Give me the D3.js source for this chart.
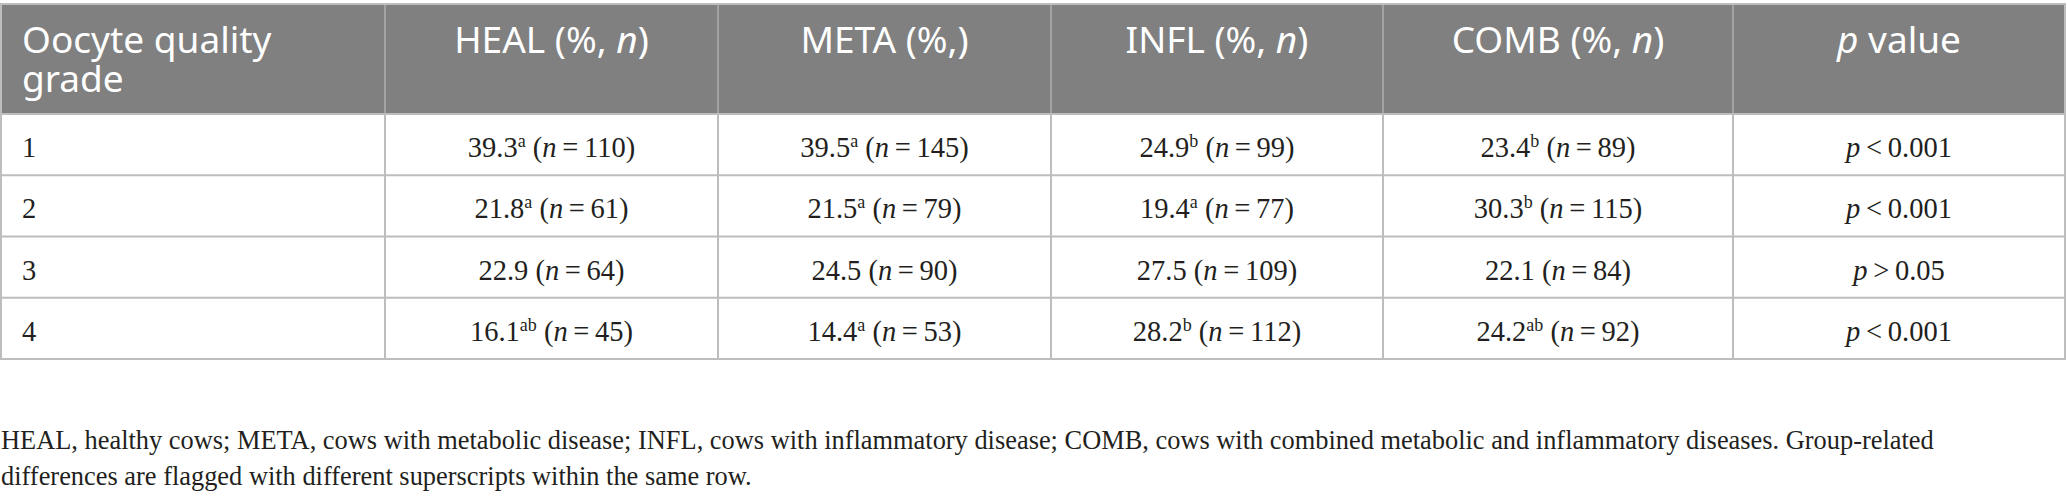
<!DOCTYPE html>
<html>
<head>
<meta charset="utf-8">
<script src="https://cdn.jsdelivr.net/npm/d3@7"></script>
<style>
  html, body { margin: 0; padding: 0; background: #fff; }
  svg { display: block; }
</style>
</head>
<body>
<svg id="chart" width="2067" height="500"></svg>
<script>
// ---------- data ----------
const headerLabels = ["Oocyte quality grade", "HEAL (%, n)", "META (%,)", "INFL (%, n)", "COMB (%, n)", "p value"];
const grades = ["1", "2", "3", "4"];
const healPct = [39.3, 21.8, 22.9, 16.1];
const healSup = ["a", "a", "", "ab"];
const healN = [110, 61, 64, 45];
const metaPct = [39.5, 21.5, 24.5, 14.4];
const metaSup = ["a", "a", "", "a"];
const metaN = [145, 79, 90, 53];
const inflPct = [24.9, 19.4, 27.5, 28.2];
const inflSup = ["b", "a", "", "b"];
const inflN = [99, 77, 109, 112];
const combPct = [23.4, 30.3, 22.1, 24.2];
const combSup = ["b", "b", "", "ab"];
const combN = [89, 115, 84, 92];
const pSign = ["<", "<", ">", "<"];
const pThreshold = ["0.001", "0.001", "0.05", "0.001"];
const footnoteLines = [
  "HEAL, healthy cows; META, cows with metabolic disease; INFL, cows with inflammatory disease; COMB, cows with combined metabolic and inflammatory diseases. Group-related",
  "differences are flagged with different superscripts within the same row."
];

// ---------- layout ----------
const colEdges = [1, 385, 718, 1051, 1383, 1733, 2065];
const tableTop = 4, headerBottom = 114, tableBottom = 359;
const headerFont = "'Noto Sans', 'Open Sans', sans-serif";
const bodyFont = "'Liberation Serif', 'Times New Roman', serif";
const borderColor = "#bdbdbd";
const headerBg = "#7f807f";
const textColor = "#231f20";

const svg = d3.select("#chart");

const x = i => colEdges[i];
const colCenter = i => (colEdges[i] + colEdges[i + 1]) / 2;
const y = d3.scaleLinear().domain([0, grades.length]).range([headerBottom, tableBottom]);

// header background
svg.append("rect")
  .attr("x", x(0)).attr("y", tableTop)
  .attr("width", x(6) - x(0)).attr("height", headerBottom - tableTop)
  .attr("fill", headerBg);

// header text
const hg = svg.append("g").attr("fill", "#fff")
  .style("font-family", headerFont).style("font-size", "37px");

const firstHead = hg.append("text").attr("x", 22).attr("y", 53);
const fhWords = headerLabels[0].split(" ");
firstHead.append("tspan").attr("x", 22).attr("y", 53).text(fhWords.slice(0, 2).join(" "));
firstHead.append("tspan").attr("x", 22).attr("y", 92).text(fhWords.slice(2).join(" "));

headerLabels.slice(1).forEach((lab, k) => {
  const i = k + 1;
  const t = hg.append("text").attr("x", colCenter(i)).attr("y", 53).attr("text-anchor", "middle");
  if (lab.startsWith("p ")) {
    t.append("tspan").style("font-style", "italic").text("p");
    t.append("tspan").text(lab.slice(1));
  } else if (lab.includes(", n)")) {
    const base = lab.replace("n)", "");
    t.append("tspan").text(base);
    t.append("tspan").style("font-style", "italic").text("n");
    t.append("tspan").text(")");
  } else {
    t.text(lab);
  }
});

// body text
const bg = svg.append("g").attr("fill", textColor)
  .style("font-family", bodyFont).style("font-size", "28.5px");

const groups = [
  [healPct, healSup, healN],
  [metaPct, metaSup, metaN],
  [inflPct, inflSup, inflN],
  [combPct, combSup, combN]
];

grades.forEach((g, r) => {
  const base = y(r) + 43;
  bg.append("text").attr("x", 22).attr("y", base).text(g);
  groups.forEach(([pct, sup, n], c) => {
    const t = bg.append("text").attr("x", colCenter(c + 1)).attr("y", base).attr("text-anchor", "middle");
    t.append("tspan").text(pct[r].toFixed(1));
    if (sup[r]) {
      t.append("tspan").attr("dy", -10).style("font-size", "18px").text(sup[r]);
      t.append("tspan").attr("dy", 10).text(" (");
    } else {
      t.append("tspan").text(" (");
    }
    t.append("tspan").style("font-style", "italic").text("n");
    t.append("tspan").text("\u2009=\u2009" + n[r] + ")");
  });
  const pt = bg.append("text").attr("x", colCenter(5)).attr("y", base).attr("text-anchor", "middle");
  pt.append("tspan").style("font-style", "italic").text("p");
  pt.append("tspan").text("\u2009" + pSign[r] + "\u2009" + pThreshold[r]);
});

// grid lines
const lines = svg.append("g").attr("stroke", borderColor).attr("stroke-width", 2).attr("fill", "none");
[tableTop, headerBottom].concat(d3.range(1, grades.length + 1).map(y)).forEach(yy => {
  lines.append("line").attr("x1", x(0) - 1).attr("x2", x(6) + 1).attr("y1", yy).attr("y2", yy);
});
colEdges.forEach(xx => {
  lines.append("line").attr("x1", xx).attr("x2", xx).attr("y1", tableTop).attr("y2", tableBottom);
});
// lighter dividers inside header
const hl = svg.append("g").attr("stroke", "#a3a3a3").attr("stroke-width", 2);
colEdges.slice(1, 6).forEach(xx => {
  hl.append("line").attr("x1", xx).attr("x2", xx).attr("y1", tableTop + 1).attr("y2", headerBottom - 1);
});

// footnote
const fg = svg.append("g").attr("fill", textColor)
  .style("font-family", bodyFont).style("font-size", "26.4px");
footnoteLines.forEach((ln, i) => {
  fg.append("text").attr("x", 1).attr("y", 449 + i * 36).text(ln);
});
</script>
</body>
</html>
